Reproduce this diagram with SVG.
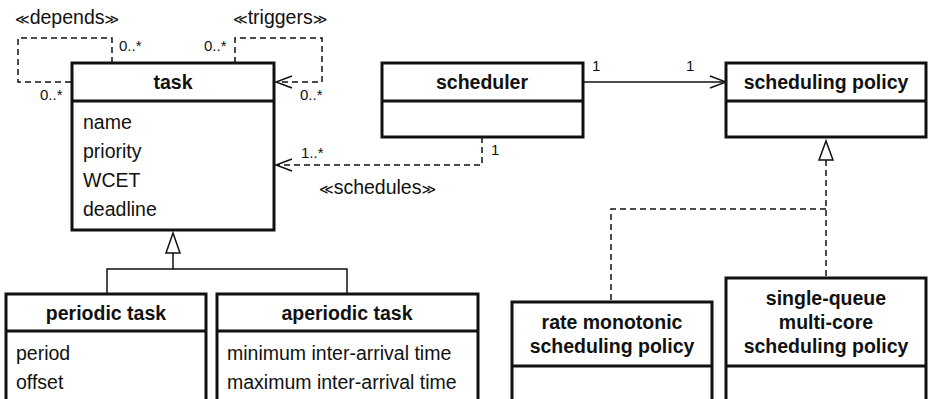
<svg xmlns="http://www.w3.org/2000/svg" width="928" height="399" viewBox="0 0 928 399">
<style>
.box{fill:#fff;stroke:#111;stroke-width:3}
.sep{stroke:#111;stroke-width:3}
.t{font-family:"Liberation Sans",Arial,sans-serif;font-weight:bold;font-size:19.5px;fill:#111;text-anchor:middle}
.a{font-family:"Liberation Sans",Arial,sans-serif;font-size:19.5px;fill:#111}
.m{font-family:"Liberation Sans",Arial,sans-serif;font-size:15px;fill:#111}
.st{font-family:"Liberation Sans","DejaVu Sans",Arial,sans-serif;font-size:19.5px;fill:#111}
.g{font-family:"DejaVu Sans",sans-serif;font-size:14px}
.c{fill:none;stroke:#111;stroke-width:1.5}
.d{fill:none;stroke:#111;stroke-width:1.5;stroke-dasharray:6,4}
.tri{fill:#fff;stroke:#111;stroke-width:1.5}
</style>
<defs>
<marker id="open" markerWidth="20" markerHeight="14" refX="18" refY="7" orient="auto" markerUnits="userSpaceOnUse">
<path d="M2,1 L18,7 L2,13" fill="none" stroke="#111" stroke-width="1.5"/>
</marker>
</defs>

<g id="connectors">
<path class="d" d="M112,63 V38 H18 V82 H72"/>
<path class="d" d="M235,63 V38 H322 V82 H276" marker-end="url(#open)"/>
<path class="d" d="M482,137 V165 H276" marker-end="url(#open)"/>
<path class="c" d="M583,82 H726" marker-end="url(#open)"/>
<path class="c" d="M173,253 V269 M107,294 V269 H347 V294"/>
<path class="tri" d="M173,233 L180,253 L166,253 Z"/>
<path class="d" d="M826,160 V278 M826,209 H611 V302"/>
<path class="tri" d="M826,141 L833,160 L819,160 Z"/>
<text class="st" x="15" y="24"><tspan class="g">≪</tspan>depends<tspan class="g">≫</tspan></text>
<text class="st" x="233" y="24"><tspan class="g">≪</tspan>triggers<tspan class="g">≫</tspan></text>
<text class="st" x="319" y="194"><tspan class="g">≪</tspan>schedules<tspan class="g">≫</tspan></text>
<text class="m" x="119" y="51">0..*</text>
<text class="m" x="40" y="100">0..*</text>
<text class="m" x="204" y="51">0..*</text>
<text class="m" x="300" y="100">0..*</text>
<text class="m" x="301" y="158">1..*</text>
<text class="m" x="491" y="155">1</text>
<text class="m" x="592" y="71">1</text>
<text class="m" x="686" y="71">1</text>
</g>

<g id="task">
<rect class="box" x="72" y="63" width="202" height="167"/>
<line class="sep" x1="72" y1="101" x2="274" y2="101"/>
<text class="t" x="173" y="89">task</text>
<text class="a" x="83" y="129">name</text>
<text class="a" x="83" y="158">priority</text>
<text class="a" x="83" y="187">WCET</text>
<text class="a" x="83" y="216">deadline</text>
</g>

<g id="scheduler">
<rect class="box" x="382" y="63" width="201" height="74"/>
<line class="sep" x1="382" y1="101" x2="583" y2="101"/>
<text class="t" x="482" y="89">scheduler</text>
</g>

<g id="scheduling-policy">
<rect class="box" x="726" y="63" width="200" height="74"/>
<line class="sep" x1="726" y1="101" x2="926" y2="101"/>
<text class="t" x="826" y="89">scheduling policy</text>
</g>

<g id="periodic-task">
<rect class="box" x="6" y="294" width="200" height="120"/>
<line class="sep" x1="6" y1="331" x2="206" y2="331"/>
<text class="t" x="106" y="320">periodic task</text>
<text class="a" x="16" y="360">period</text>
<text class="a" x="16" y="389">offset</text>
</g>

<g id="aperiodic-task">
<rect class="box" x="217" y="294" width="261" height="120"/>
<line class="sep" x1="217" y1="331" x2="478" y2="331"/>
<text class="t" x="347" y="320">aperiodic task</text>
<text class="a" x="227" y="360">minimum inter-arrival time</text>
<text class="a" x="227" y="389">maximum inter-arrival time</text>
</g>

<g id="rate-monotonic">
<rect class="box" x="512" y="302" width="200" height="120"/>
<line class="sep" x1="512" y1="366" x2="712" y2="366"/>
<text class="t" x="612" y="329">rate monotonic</text>
<text class="t" x="612" y="353">scheduling policy</text>
</g>

<g id="single-queue">
<rect class="box" x="726" y="278" width="200" height="144"/>
<line class="sep" x1="726" y1="366" x2="926" y2="366"/>
<text class="t" x="826" y="305">single-queue</text>
<text class="t" x="826" y="329">multi-core</text>
<text class="t" x="826" y="353">scheduling policy</text>
</g>
</svg>
